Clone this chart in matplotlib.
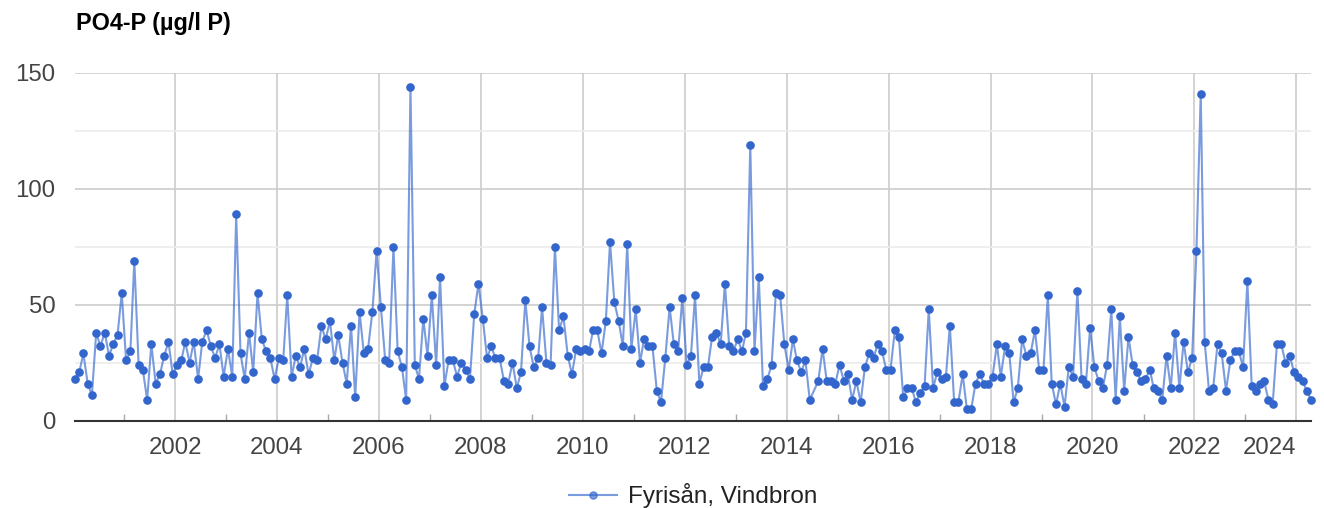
import matplotlib
matplotlib.use("Agg")
import matplotlib.pyplot as plt
import matplotlib.dates as mdates
from matplotlib.ticker import FixedLocator
import pandas as pd
import datetime as dt

title = "PO4-P (µg/l P)"
series_name = "Fyrisån, Vindbron"

# monthly samples Jan 2000 - Apr 2024 (July 2014 missing)
start_month = "2000-01-01"
n_months = 292
missing_months = ["2014-07"]

values = [
    18, 21, 29, 16, 11, 38, 32, 38, 28, 33, 37, 55, 26, 30, 69, 24, 22, 9, 33, 16, 20, 28, 34, 20, 24, 26, 34, 25, 34,
    18, 34, 39, 32, 27, 33, 19, 31, 19, 89, 29, 18, 38, 21, 55, 35, 30, 27, 18, 27, 26, 54, 19, 28, 23, 31, 20, 27, 26,
    41, 35, 43, 26, 37, 25, 16, 41, 10, 47, 29, 31, 47, 73, 49, 26, 25, 75, 30, 23, 9, 144, 24, 18, 44, 28, 54, 24, 62,
    15, 26, 26, 19, 25, 22, 18, 46, 59, 44, 27, 32, 27, 27, 17, 16, 25, 14, 21, 52, 32, 23, 27, 49, 25, 24, 75, 39, 45, 28,
    20, 31, 30, 31, 30, 39, 39, 29, 43, 77, 51, 43, 32, 76, 31, 48, 25, 35, 32, 32, 13, 8, 27, 49, 33, 30, 53, 24, 28, 54,
    16, 23, 23, 36, 38, 33, 59, 32, 30, 35, 30, 38, 119, 30, 62, 15, 18, 24, 55, 54, 33, 22, 35, 26, 21, 26, 9,
    17, 31, 17, 17, 16, 24, 17, 20, 9, 17, 8, 23, 29, 27, 33, 30, 22, 22, 39, 36, 10, 14, 14, 8, 12, 15, 48, 14, 21, 18,
    19, 41, 8, 8, 20, 5, 5, 16, 20, 16, 16, 19, 33, 19, 32, 29, 8, 14, 35, 28, 29, 39, 22, 22, 54, 16, 7, 16, 6, 23,
    19, 56, 18, 16, 40, 23, 17, 14, 24, 48, 9, 45, 13, 36, 24, 21, 17, 18, 22, 14, 13, 9, 28, 14, 38, 14, 34, 21, 27, 73,
    141, 34, 13, 14, 33, 29, 13, 26, 30, 30, 23, 60, 15, 13, 16, 17, 9, 7, 33, 33, 25, 28, 21, 19, 17, 13, 9,
]

y_major = [0, 50, 100, 150]
y_minor = [25, 75, 125]
x_major_years = list(range(2002, 2025, 2))
x_minor_years = list(range(2001, 2024, 2))

months = pd.date_range(start_month, periods=n_months, freq="MS")
months = months[~months.strftime("%Y-%m").isin(missing_months)]
dates = months + pd.Timedelta(days=14)

plt.rcParams["font.family"] = ["Liberation Sans", "DejaVu Sans"]

W, H = 1324, 508
fig = plt.figure(figsize=(W / 100, H / 100), dpi=100)
L, R, T, B = 75, 1311, 72.7, 420.7
ax = fig.add_axes([L / W, 1 - B / H, (R - L) / W, (B - T) / H])

blue = "#3366cc"
ax.plot(dates, values, color=blue, lw=1.5, alpha=0.65, zorder=3, clip_on=False)
ax.plot(dates, values, ls="none", marker="o", ms=5.2, color=blue, mec=blue, zorder=4, clip_on=False)

ax.set_xlim(dates[0], dates[-1])
ax.set_ylim(0, 150)

ax.set_yticks(y_major)
ax.yaxis.set_minor_locator(FixedLocator(y_minor))
ax.grid(axis="y", which="major", color="#cccccc", lw=1.2, zorder=0)
ax.grid(axis="y", which="minor", color="#ebebeb", lw=1.2, zorder=0)

major_dates = [mdates.date2num(dt.date(y, 1, 1)) for y in x_major_years]
minor_dates = [mdates.date2num(dt.date(y, 1, 1)) for y in x_minor_years]
ax.set_xticks(major_dates)
ax.set_xticklabels([str(y) for y in x_major_years])
ax.xaxis.set_minor_locator(FixedLocator(minor_dates))
ax.grid(axis="x", which="major", color="#cccccc", lw=1.2, zorder=0)

for s in ["top", "right", "left"]:
    ax.spines[s].set_visible(False)
ax.spines["bottom"].set_color("#333333")
ax.spines["bottom"].set_linewidth(1.5)
ax.spines["bottom"].set_zorder(5)

ax.tick_params(axis="y", which="both", length=0, pad=14, labelsize=17.3, labelcolor="#444444")
ax.tick_params(axis="x", which="major", length=0, pad=12, labelsize=17.3, labelcolor="#444444")
ax.tick_params(axis="x", which="minor", direction="in", length=5, width=1, color="#aaaaaa")
ax.get_xticklabels()[-1].set_horizontalalignment("right")

fig.text(76 / W, 1 - 23.5 / H, title, fontsize=16.8, fontweight="bold", color="#000000",
         ha="left", va="center")

fig.legend(handles=[plt.Line2D([], [], color=blue, lw=1.5, alpha=0.65, marker="o", ms=5.2,
                               mfc=blue, mec=blue)],
           labels=[series_name], loc="center", bbox_to_anchor=((L + R) / 2 / W, 12 / H),
           frameon=False, fontsize=17.5, handlelength=2.0, handletextpad=0.45,
           labelcolor="#222222")

fig.savefig("out.png", dpi=100)
